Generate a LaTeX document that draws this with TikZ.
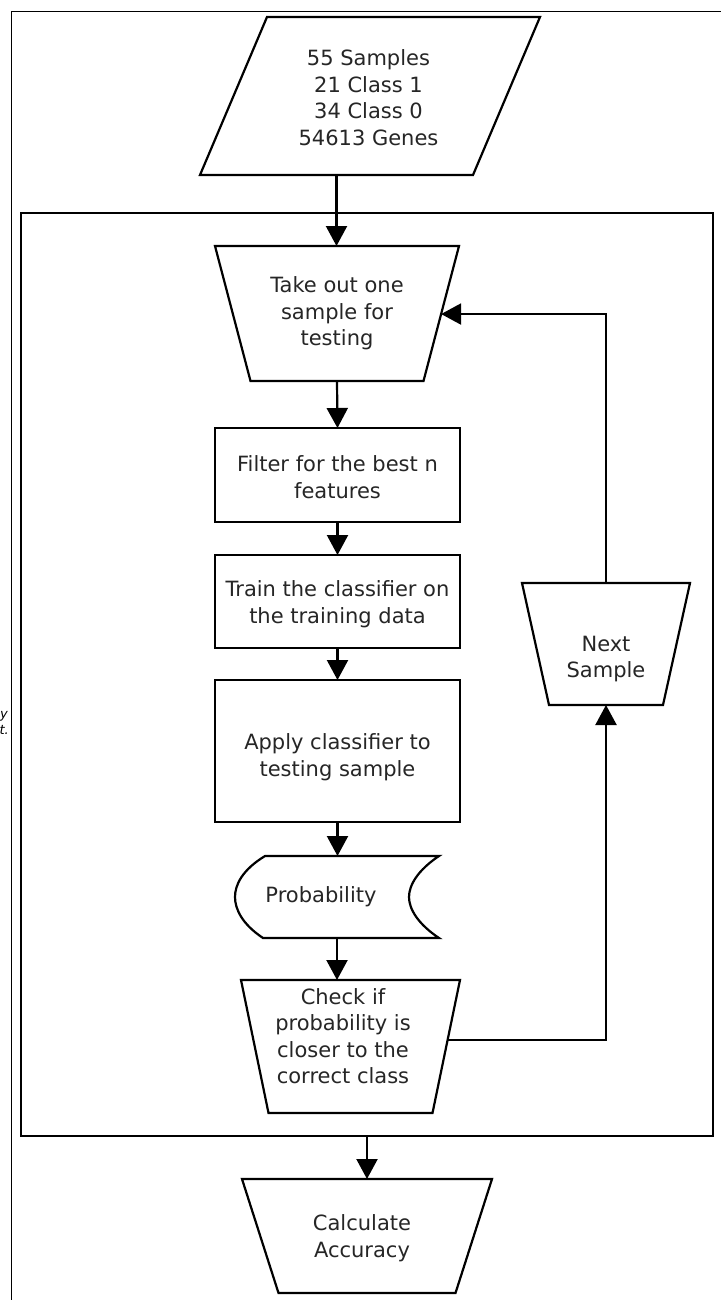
\documentclass[tikz,border=0pt]{standalone}
\usepackage{fontspec}
\setmainfont{DejaVu Sans}
\usetikzlibrary{arrows.meta,calc}
\begin{document}
\begin{tikzpicture}[x=1pt,y=-1pt,
  txt/.style={font=\fontsize{21}{26.5}\selectfont, text=black!85, align=center, inner sep=0pt},
  holder/.style={txt, minimum width=#1, outer sep=0pt},
  shp/.style={draw=black, line width=2.2pt, line join=miter},
  arr/.style={draw=black, line width=2.2pt, -{Triangle[length=20pt,width=21pt]}},
  frm/.style={draw=black, line width=1.5pt}]
\useasboundingbox (0,0) rectangle (721,1300);
\fill[white] (0,0) rectangle (721,1300);
% outer frame (partly cut off)
\draw[frm] (11.5,1300) -- (11.5,11.5) -- (721,11.5);
% cut-off text fragments at left edge
\node[anchor=east, font=\rmfamily\itshape\fontsize{13}{13}\selectfont, inner sep=0pt] (fragA) at (8,716) {y};
\node[anchor=east, font=\rmfamily\itshape\fontsize{13}{13}\selectfont, inner sep=0pt] (fragB) at (9,730) {t.};
% loop box
\node[draw=black, line width=2.5pt, minimum width=692pt, minimum height=923pt, inner sep=0pt] (loop) at (367,674.5) {};
% input parallelogram
\node[holder=340pt, minimum height=158pt] (in) at (370,96) {};
\draw[shp] (in.south west) -- ([xshift=-67pt]in.south east) -- (in.north east) -- ([xshift=67pt]in.north west) -- cycle;
\node[txt] (intxt) at (368.5,97.5) {55 Samples\\21 Class 1\\34 Class 0\\54613 Genes};
\coordinate (inbot) at ($(in.south west)!0.5!([xshift=-67pt]in.south east)$);
% take out
\node[holder=244pt, minimum height=135pt] (take) at (337,313.5) {Take out one\\sample for\\testing};
\draw[shp] (take.north west) -- (take.north east) -- ([xshift=-35.5pt]take.south east) -- ([xshift=35.5pt]take.south west) -- cycle;
\coordinate (takeR) at ($(take.north east)!0.504!([xshift=-35.5pt]take.south east)$);
% filter
\node[holder=245pt, minimum height=94pt, draw=black, line width=2.2pt] (filter) at (337.5,475) {};
\node[txt] (filtertxt) at (337.5,477) {Filter for the best n\\features};
% train
\node[holder=245pt, minimum height=93pt, draw=black, line width=2.2pt] (train) at (337.5,601.5) {};
\node[txt] (traintxt) at (337.5,604) {Train the classifier on\\the training data};
% apply
\node[holder=245pt, minimum height=142pt, draw=black, line width=2.2pt] (apply) at (337.5,751) {};
\node[txt] (applytxt) at (337.5,757) {Apply classifier to\\testing sample};
% probability
\node[holder=204pt, minimum height=82pt] (prob) at (337,897) {};
\draw[shp, shift={(prob.center)}] (102,-41) -- (-72,-41) .. controls (-95,-27) and (-102,-12) .. (-102,0) .. controls (-102,12) and (-95,27) .. (-74,41) -- (102,41) .. controls (81,27) and (72,12) .. (72,0) .. controls (72,-12) and (81,-27) .. (102,-41) -- cycle;
\node[txt] (probtxt) at (321,897) {Probability};
% check
\node[holder=219pt, minimum height=133pt] (check) at (350.5,1046.5) {};
\draw[shp] (check.north west) -- (check.north east) -- ([xshift=-27.5pt]check.south east) -- ([xshift=27.5pt]check.south west) -- cycle;
\node[txt] (checktxt) at (343,1036) {Check if\\probability is\\closer to the\\correct class};
\coordinate (checkR) at ($(check.north east)!0.451!([xshift=-27.5pt]check.south east)$);
% next sample
\node[holder=168pt, minimum height=122pt] (next) at (606,644) {};
\draw[shp] (next.north west) -- (next.north east) -- ([xshift=-27pt]next.south east) -- ([xshift=27pt]next.south west) -- cycle;
\node[txt] (nexttxt) at (606,659) {Next\\Sample};
% calculate
\node[holder=250pt, minimum height=114pt] (calc) at (367,1236) {};
\draw[shp] (calc.north west) -- (calc.north east) -- ([xshift=-36.5pt]calc.south east) -- ([xshift=36.5pt]calc.south west) -- cycle;
\node[txt] (calctxt) at (362,1238) {Calculate\\Accuracy};
\coordinate (loopout) at (loop.south -| calc.north);
% connectors
\draw[arr] (inbot) -- (inbot |- take.north);
\draw[arr] (take.south) -- (filter.north);
\draw[arr] (filter.south) -- (train.north);
\draw[arr] (train.south) -- (apply.north);
\draw[arr] (apply.south) -- (apply.south |- prob.north);
\draw[arr] (prob.south) -- (prob.south |- check.north);
\draw[arr] (checkR) -| (next.south);
\draw[arr] (next.north) |- (takeR);
\draw[arr] (loopout) -- (calc.north);
\end{tikzpicture}
\end{document}
